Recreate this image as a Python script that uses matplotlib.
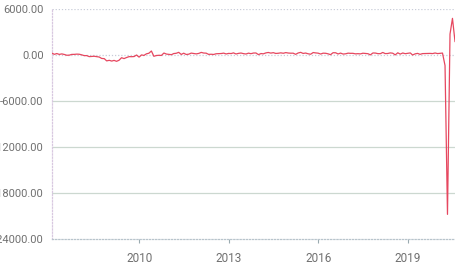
import numpy as np
import pandas as pd
import matplotlib
matplotlib.use("Agg")
import matplotlib.pyplot as plt
import matplotlib.dates as mdates

# monthly change, thousands
vals_2007 = [238, 88, 188, 78, 144, 71, -33, -18, 79, 82, 114, 98]
vals_2008 = [17, -84, -78, -210, -185, -165, -209, -266, -452, -473, -769, -695]
vals_2009 = [-791, -703, -823, -686, -351, -470, -329, -213, -220, -204, -2, -275]
vals_2010 = [14, -59, 153, 229, 521, -167, -69, -38, -60, 257, 123, 88]
vals_2011 = [42, 188, 225, 346, 73, 235, 70, 107, 246, 202, 146, 205]
vals_2012 = [338, 257, 239, 81, 99, 69, 162, 173, 191, 243, 137, 208]
vals_2013 = [189, 276, 134, 210, 256, 178, 131, 241, 173, 257, 261, 48]
vals_2014 = [190, 151, 272, 329, 246, 304, 202, 230, 280, 227, 312, 255]
vals_2015 = [234, 238, 86, 262, 344, 206, 254, 157, 100, 321, 272, 239]
vals_2016 = [126, 237, 225, 153, 43, 297, 291, 135, 249, 124, 155, 240]
vals_2017 = [216, 219, 149, 174, 145, 232, 207, 170, 18, 264, 253, 175]
vals_2018 = [176, 329, 182, 196, 272, 235, 19, 288, 117, 263, 170, 222]
vals_2019 = [269, 1, 147, 210, 85, 182, 194, 207, 208, 185, 261, 184]
vals_2020 = [214, 251, -1373, -20787, 2725, 4781, 1761]

values = (vals_2007 + vals_2008 + vals_2009 + vals_2010 + vals_2011 + vals_2012
          + vals_2013 + vals_2014 + vals_2015 + vals_2016 + vals_2017 + vals_2018
          + vals_2019 + vals_2020)
dates = pd.date_range("2007-01-31", periods=len(values), freq="ME")

y_ticks = [6000, 0, -6000, -12000, -18000, -24000]
x_years = [2010, 2013, 2016, 2019]

plt.rcParams['font.family'] = ['Roboto', 'DejaVu Sans']

fig = plt.figure(figsize=(4.71, 2.70), dpi=100)
ax = fig.add_axes([52/471, 1 - 239/270, (455 - 52)/471, (239 - 9)/270])

ax.plot(dates, values, color='#e6475f', lw=0.9, zorder=3)

ax.set_ylim(-24000, 6000)
ax.set_xlim(dates[0], dates[-1])

# grid: solid in between, dotted on top and zero
for t in y_ticks:
    if t in (-6000, -12000, -18000):
        ax.axhline(t, color='#ccd8d0', lw=0.9, zorder=1)
    elif t != -24000:
        ax.axhline(t, color='#c8ccd8', lw=0.9, ls=(0, (1, 1.5)), zorder=1)

for s in ['top', 'right']:
    ax.spines[s].set_visible(False)
ax.spines['left'].set_color('#d8c8e0')
ax.spines['left'].set_linestyle((0, (1, 1.5)))
ax.spines['left'].set_linewidth(0.9)
ax.spines['bottom'].set_color('#b8c4cc')
ax.spines['bottom'].set_linestyle((0, (1, 1.5)))
ax.spines['bottom'].set_linewidth(0.9)

ax.set_yticks(y_ticks)
ax.set_yticklabels([f"{t:.2f}" for t in y_ticks])
ax.tick_params(axis='y', length=0, pad=6, labelsize=8, labelcolor='#707070')

ax.set_xticks([pd.Timestamp(f"{y}-01-01") for y in x_years])
ax.xaxis.set_major_formatter(mdates.DateFormatter('%Y'))
ax.tick_params(axis='x', length=3, width=0.8, color='#9aaab0', pad=6,
               labelsize=8.5, labelcolor='#707070')

fig.savefig("out.png", dpi=100)
